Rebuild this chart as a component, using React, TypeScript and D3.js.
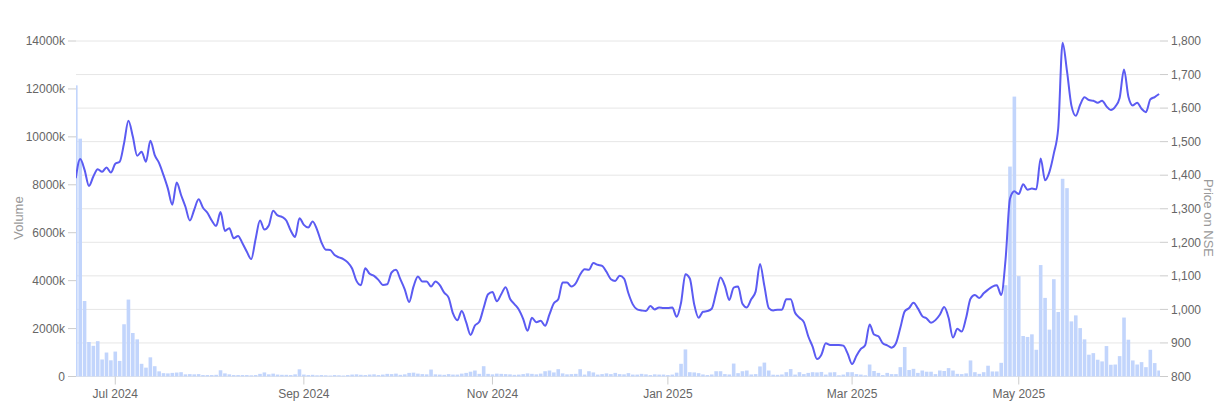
import React from "react";
import * as d3 from "d3";

// ---- Data ----
const START_DATE = "2024-06-18";
const END_DATE = "2025-06-17";
const HOLIDAYS = [
  "2024-07-17", "2024-08-15", "2024-10-02", "2024-11-15", "2024-11-20", "2024-12-25",
  "2025-02-26", "2025-03-14", "2025-03-31", "2025-04-10", "2025-04-14", "2025-04-18", "2025-05-01",
];

const PRICE = [
  1391, 1448, 1416, 1368, 1396, 1418, 1410, 1423, 1408, 1434,
  1440, 1495, 1562, 1515, 1458, 1470, 1440, 1503, 1460, 1436,
  1400, 1360, 1312, 1378, 1341, 1306, 1265, 1297, 1328, 1303,
  1288, 1265, 1249, 1290, 1234, 1242, 1212, 1219, 1197, 1172,
  1150, 1210, 1265, 1238, 1250, 1294, 1280, 1276, 1265, 1235,
  1216, 1272, 1252, 1244, 1262, 1238, 1200, 1178, 1177, 1162,
  1155, 1150, 1140, 1122, 1085, 1072, 1123, 1106, 1100, 1088,
  1073, 1075, 1110, 1118, 1090, 1060, 1022, 1068, 1098, 1083,
  1083, 1068, 1083, 1072, 1050, 1035, 988, 968, 995, 962,
  924, 952, 963, 1005, 1045, 1052, 1024, 1045, 1066, 1032,
  1016, 1000, 972, 936, 975, 962, 966, 951, 985, 1018,
  1030, 1080, 1080, 1068, 1078, 1104, 1120, 1118, 1138, 1133,
  1130, 1112, 1090, 1085, 1100, 1092, 1048, 1015, 1000, 997,
  995, 1010, 1000, 1006, 1004, 1004, 1006, 978, 1020, 1105,
  1092, 1015, 975, 993, 995, 1002, 1050, 1095, 1070, 1028,
  1065, 1068, 1017, 1006, 1030, 1053, 1135, 1070, 1004, 997,
  999, 999, 1030, 1030, 990, 975, 962, 920, 889, 852,
  865, 899, 894, 894, 894, 892, 868, 837, 862, 882,
  894, 955, 925, 920, 899, 893, 886, 899, 945, 994,
  1004, 1020, 1003, 980, 973, 960, 968, 984, 1007, 975,
  916, 942, 934, 975, 1032, 1043, 1034, 1048, 1059, 1068,
  1072, 1043, 1150, 1330, 1352, 1344, 1373, 1357, 1360, 1358,
  1450, 1385, 1410, 1465, 1540, 1795, 1710, 1608, 1577, 1610,
  1632, 1624, 1622, 1616, 1622, 1605, 1594, 1604, 1630, 1715,
  1634, 1608, 1616, 1598, 1588, 1626, 1633, 1642,
];

// volume in thousands
const VOLUME = [
  12150, 9925, 3150, 1440, 1280, 1475, 710, 1000, 675, 1040,
  650, 2180, 3210, 1815, 1550, 530, 370, 800, 430, 215,
  140, 130, 150, 165, 180, 90, 100, 90, 100, 60,
  60, 60, 70, 260, 130, 90, 60, 60, 60, 60,
  50, 60, 110, 170, 90, 120, 80, 70, 70, 60,
  90, 300, 80, 60, 70, 50, 60, 50, 40, 60,
  50, 40, 60, 80, 90, 70, 60, 80, 90, 60,
  80, 110, 100, 120, 70, 90, 150, 160, 120, 100,
  90, 290, 90, 80, 70, 100, 80, 80, 120, 150,
  200, 250, 110, 430, 110, 90, 120, 110, 100, 90,
  70, 80, 100, 130, 110, 90, 120, 220, 250, 170,
  305, 130, 90, 100, 110, 305, 80, 220, 170, 80,
  100, 130, 100, 150, 100, 90, 140, 80, 80, 110,
  90, 60, 90, 80, 80, 60, 80, 160, 530, 1130,
  180, 170, 140, 85, 60, 85, 220, 220, 100, 85,
  540, 140, 220, 250, 85, 100, 420, 580, 250, 75,
  70, 85, 180, 310, 80, 180, 100, 150, 180, 170,
  190, 80, 170, 180, 50, 80, 180, 180, 100, 80,
  50, 500, 230, 150, 60, 150, 100, 100, 390, 1230,
  270, 320, 150, 250, 200, 200, 100, 250, 230, 350,
  250, 110, 100, 130, 670, 180, 110, 180, 450, 210,
  210, 570, 3810, 8760, 11680, 4190, 1690, 1650, 1760, 1115,
  4650, 3280, 1955, 4060, 2690, 8250, 7860, 2300, 2550, 2020,
  1550, 910, 975, 700, 630, 1270, 490, 500, 850, 2460,
  1535, 670, 500, 600, 390, 1115, 560, 250,
];

const MONTH_TICK_DATES = ["2024-07-01", "2024-09-02", "2024-11-01", "2025-01-01", "2025-03-03", "2025-05-02"];
const MONTH_TICK_LABELS = ["Jul 2024", "Sep 2024", "Nov 2024", "Jan 2025", "Mar 2025", "May 2025"];
const VOLUME_TICKS = [0, 2000, 4000, 6000, 8000, 10000, 12000, 14000];
const PRICE_TICKS = [800, 900, 1000, 1100, 1200, 1300, 1400, 1500, 1600, 1700, 1800];

function tradingDays(): string[] {
  const out: string[] = [];
  const hol = new Set(HOLIDAYS);
  const d = new Date(START_DATE + "T00:00:00Z");
  const end = new Date(END_DATE + "T00:00:00Z");
  while (d <= end) {
    const wd = d.getUTCDay();
    const s = d.toISOString().slice(0, 10);
    if (wd !== 0 && wd !== 6 && !hol.has(s)) out.push(s);
    d.setUTCDate(d.getUTCDate() + 1);
  }
  return out;
}

const W = 1226;
const H = 409;
const LEFT = 76;
const RIGHT = 1160;
const TOP = 41;
const BOTTOM = 376.5;
const FONT = "'Liberation Sans', Arial, Helvetica, sans-serif";

export default function App() {
  const dates = tradingDays();
  const n = Math.min(dates.length, PRICE.length, VOLUME.length);
  const ds = dates.slice(0, n);

  const x = d3.scalePoint<string>().domain(ds).range([75.8, 1159.1]);
  const yVol = d3.scaleLinear().domain([0, 14000]).range([BOTTOM, TOP]);
  const yPrice = d3.scaleLinear().domain([800, 1800]).range([BOTTOM, TOP]);

  const rows = ds.map((d, i) => ({ d, p: PRICE[i], v: VOLUME[i] }));
  const line = d3
    .line<{ d: string; p: number }>()
    .x((r) => x(r.d) as number)
    .y((r) => yPrice(r.p))
    .curve(d3.curveMonotoneX);

  const barW = 3.6;
  const fmt = d3.format(",");

  return (
    <svg
      width={W}
      height={H}
      style={{ position: "absolute", left: 0, top: 0, background: "#fff" }}
      fontFamily={FONT}
    >
      <defs>
        <clipPath id="plotClip">
          <rect x={LEFT} y={0} width={RIGHT - LEFT} height={BOTTOM + 0.5} />
        </clipPath>
      </defs>
      <rect x={0} y={0} width={W} height={H} fill="#fff" />

      {/* grid lines (price axis) */}
      {PRICE_TICKS.map((t) => (
        <line key={"g" + t} x1={LEFT} x2={RIGHT} y1={yPrice(t)} y2={yPrice(t)} stroke="#e6e6e6" strokeWidth={1} />
      ))}

      {/* volume bars */}
      <g clipPath="url(#plotClip)">
        {rows.map((r) => (
          <rect
            key={"b" + r.d}
            x={(x(r.d) as number) - barW / 2}
            y={yVol(r.v)}
            width={barW}
            height={BOTTOM - yVol(r.v)}
            fill="#c2d5fc"
          />
        ))}
      </g>

      {/* price line */}
      <g clipPath="url(#plotClip)">
        <path d={line(rows) || ""} fill="none" stroke="#5b5bf2" strokeWidth={2} strokeLinejoin="round" />
      </g>

      {/* left axis */}
      {VOLUME_TICKS.map((t) => (
        <g key={"lv" + t}>
          <line x1={68} x2={LEFT} y1={yVol(t)} y2={yVol(t)} stroke="#cccccc" />
          <text x={65} y={yVol(t)} dy="0.35em" textAnchor="end" fontSize={12} fill="#666">
            {t === 0 ? "0" : t + "k"}
          </text>
        </g>
      ))}
      <text
        transform={`translate(18,${218}) rotate(-90)`}
        textAnchor="middle"
        dy="0.35em"
        fontSize={13}
        fill="#999"
      >
        Volume
      </text>

      {/* right axis */}
      {PRICE_TICKS.map((t) => (
        <g key={"rp" + t}>
          <line x1={RIGHT} x2={1168} y1={yPrice(t)} y2={yPrice(t)} stroke="#cccccc" />
          <text x={1171} y={yPrice(t)} dy="0.35em" textAnchor="start" fontSize={12} fill="#666">
            {fmt(t)}
          </text>
        </g>
      ))}
      <text
        transform={`translate(1209,${218}) rotate(90)`}
        textAnchor="middle"
        dy="0.35em"
        fontSize={13}
        fill="#999"
      >
        Price on NSE
      </text>

      {/* bottom axis */}
      {MONTH_TICK_DATES.map((d, i) => {
        const px = x(d);
        if (px === undefined) return null;
        return (
          <g key={"mx" + d}>
            <line x1={px} x2={px} y1={BOTTOM} y2={BOTTOM + 8} stroke="#cccccc" />
            <text x={px} y={398} textAnchor="middle" fontSize={12} fill="#666">
              {MONTH_TICK_LABELS[i]}
            </text>
          </g>
        );
      })}
    </svg>
  );
}
